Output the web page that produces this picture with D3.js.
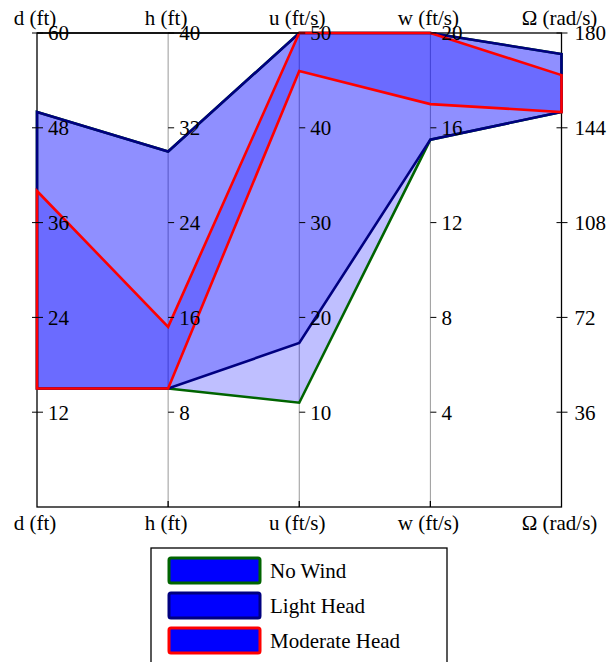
<!DOCTYPE html>
<html>
<head>
<meta charset="utf-8">
<script src="https://cdn.jsdelivr.net/npm/d3@7"></script>
<style>
  body { margin: 0; background: #fff; }
  text { font-family: "Liberation Serif", "DejaVu Serif", serif; }
</style>
</head>
<body>
<div id="chart"></div>
<script>
// axes and their ranges
var dims = ["d", "h", "u", "w", "omega"];
var dimLabels = ["d (ft)", "h (ft)", "u (ft/s)", "w (ft/s)", "\u03A9 (rad/s)"];
var dimMax = [60, 40, 50, 20, 180];
var tickVals = [
    [12, 24, 36, 48, 60],
    [8, 16, 24, 32, 40],
    [10, 20, 30, 40, 50],
    [4, 8, 12, 16, 20],
    [36, 72, 108, 144, 180]
];

// envelopes (upper / lower), one value per axis
var seriesNames = ["No Wind", "Light Head", "Moderate Head"];
var seriesColors = ["#006400", "#000080", "#ff0000"];
var noWindUpper = [50, 30, 50, 20, 172];
var noWindLower = [15, 10, 11, 15.5, 150];
var lightUpper = [50, 30, 50, 20, 172];
var lightLower = [15, 10, 17.3, 15.5, 150];
var moderateUpper = [40, 15.2, 50, 20, 164];
var moderateLower = [15, 10, 46, 17, 150];

var uppers = [noWindUpper, lightUpper, moderateUpper];
var lowers = [noWindLower, lightLower, moderateLower];

var width = 608, height = 662;
var yTop = 33, yBottom = 507;
var fontSize = 21;

var svg = d3.select("#chart").append("svg")
    .attr("width", width)
    .attr("height", height);

var x = d3.scalePoint()
    .domain(dims)
    .range([37, 561.5]);

var y = {};
dims.forEach(function (d, i) {
    y[d] = d3.scaleLinear().domain([0, dimMax[i]]).range([yBottom, yTop]);
});

// inner grey axis lines
dims.slice(1, 4).forEach(function (d) {
    svg.append("line")
        .attr("x1", x(d)).attr("x2", x(d))
        .attr("y1", yTop).attr("y2", yBottom)
        .attr("stroke", "#999")
        .attr("stroke-width", 1);
});

// frame (drawn under the bands, the band edges cover it)
svg.append("rect")
    .attr("x", x("d")).attr("y", yTop)
    .attr("width", x("omega") - x("d")).attr("height", yBottom - yTop)
    .attr("fill", "none")
    .attr("stroke", "#000").attr("stroke-width", 1.3);

// bands
var band = d3.line()
    .x(function (p) { return x(p[0]); })
    .y(function (p) { return y[p[0]](p[1]); })
    .curve(d3.curveLinearClosed);

seriesNames.forEach(function (name, s) {
    var pts = dims.map(function (d, i) { return [d, uppers[s][i]]; });
    var low = dims.map(function (d, i) { return [d, lowers[s][i]]; }).reverse();
    svg.append("path")
        .attr("d", band(pts.concat(low)))
        .attr("fill", "#0000ff")
        .attr("fill-opacity", 0.25)
        .attr("stroke", seriesColors[s])
        .attr("stroke-width", 2.6)
        .attr("stroke-linejoin", "miter");
});

// top line stays black on top
svg.append("line").attr("x1", x("d")).attr("x2", x("u"))
    .attr("y1", yTop).attr("y2", yTop)
    .attr("stroke", "#000").attr("stroke-width", 1.3);

// bottom tick marks on inner axes
dims.slice(1, 4).forEach(function (d) {
    svg.append("line")
        .attr("x1", x(d)).attr("x2", x(d))
        .attr("y1", yBottom).attr("y2", yBottom - 6)
        .attr("stroke", "#000").attr("stroke-width", 1.3);
});

// ticks + labels
dims.forEach(function (d, i) {
    var g = svg.append("g").attr("transform", "translate(" + x(d) + ",0)");
    var left = (i === 0 || i === 4) ? -5 : 0;
    g.selectAll("line.tick")
        .data(tickVals[i])
        .enter().append("line")
        .attr("class", "tick")
        .attr("x1", left).attr("x2", 6)
        .attr("y1", function (v) { return y[d](v); })
        .attr("y2", function (v) { return y[d](v); })
        .attr("stroke", "#000").attr("stroke-width", 1);
    g.selectAll("text.tl")
        .data(tickVals[i])
        .enter().append("text")
        .attr("class", "tl")
        .attr("x", i === 4 ? 13 : 11)
        .attr("y", function (v) { return y[d](v); })
        .attr("dy", "0.35em")
        .attr("font-size", fontSize)
        .text(function (v) { return v; });
});

// axis titles top and bottom
dims.forEach(function (d, i) {
    [25, 530].forEach(function (ty) {
        svg.append("text")
            .attr("x", x(d) - 2)
            .attr("y", ty)
            .attr("text-anchor", "middle")
            .attr("font-size", fontSize)
            .text(dimLabels[i]);
    });
});

// legend
var legend = svg.append("g");
legend.append("rect")
    .attr("x", 151).attr("y", 548)
    .attr("width", 296).attr("height", 140)
    .attr("fill", "#fff")
    .attr("stroke", "#000").attr("stroke-width", 1.3);

seriesNames.forEach(function (name, s) {
    var ly = 558 + s * 35;
    legend.append("rect")
        .attr("x", 169).attr("y", ly)
        .attr("width", 91).attr("height", 25)
        .attr("rx", 2)
        .attr("fill", "#0000ff")
        .attr("stroke", seriesColors[s])
        .attr("stroke-width", 3);
    legend.append("text")
        .attr("x", 270).attr("y", ly + 13)
        .attr("dy", "0.35em")
        .attr("font-size", fontSize)
        .text(name);
});
</script>
</body>
</html>
